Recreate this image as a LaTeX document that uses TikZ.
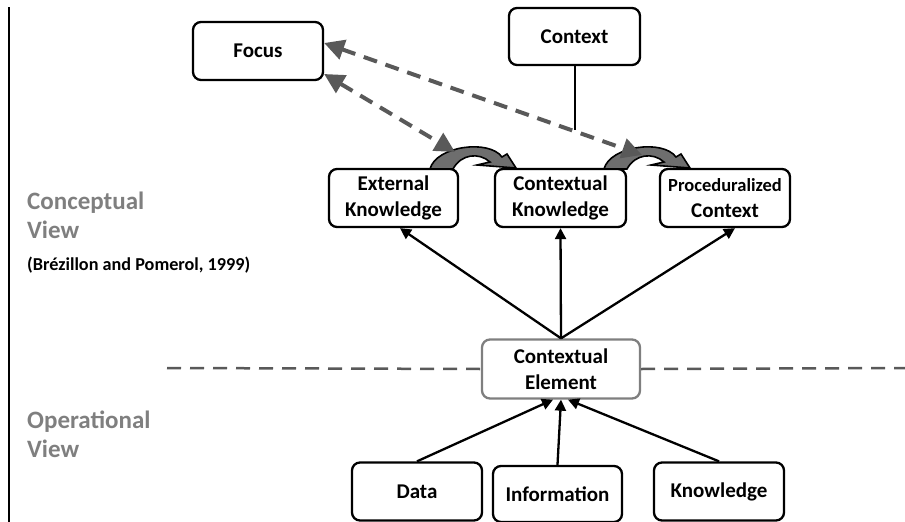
\documentclass[tikz,border=0pt]{standalone}
\usepackage{fontspec}
\setmainfont{Carlito}
\usetikzlibrary{arrows.meta}
\definecolor{dgray}{HTML}{595959}
\definecolor{lgray}{HTML}{7F7F7F}
\definecolor{agray}{HTML}{6E6E6E}
\tikzset{
  box/.style={draw=black, line width=2.3pt, rounded corners=8pt, align=center,
    font=\fontsize{21}{26}\selectfont\bfseries, inner sep=0pt},
  viewlabel/.style={anchor=base west, align=left, text=lgray,
    font=\fontsize{25}{28.5}\selectfont\bfseries, inner sep=0pt},
  solidarrow/.style={line width=2.3pt, -{Triangle[length=11pt,width=11pt]}},
  dasharrow/.style={draw=dgray, line width=4pt, dash pattern=on 14pt off 9pt,
    {Triangle[length=20pt,width=20pt]}-{Triangle[length=20pt,width=20pt]}},
  curvearrow/.style={fill=agray, draw=black, line width=1.6pt, line join=miter}
}
\begin{document}
\begin{tikzpicture}[x=1pt,y=-1pt]
\useasboundingbox (0,0) rectangle (905,522);
% left vertical rule
\draw[line width=2pt] (9,7) -- (9,522);

% view labels (base = baseline of last line)
\node[viewlabel] (cv) at (27,238) {Conceptual\\View};
\node[anchor=base west, inner sep=0pt, font=\fontsize{18.2}{20}\selectfont\bfseries] (cite) at (27,270) {(Brézillon and Pomerol, 1999)};
\node[viewlabel] (ov) at (27,457) {Operational\\View};

% boxes
\node[box, minimum width=130pt, minimum height=58pt] (focus) at (258,51) {Focus};
\node[box, minimum width=131pt, minimum height=57pt] (context) at (574.5,36.5) {Context};
\node[box, minimum width=129pt, minimum height=58pt] (ek) at (393.5,198) {External\\Knowledge};
\node[box, minimum width=131pt, minimum height=58pt] (ck) at (560.5,198) {Contextual\\Knowledge};
\node[box, minimum width=130pt, minimum height=58pt] (pc) at (725,198) {{\fontsize{18.5}{26}\selectfont Proceduralized}\\Context};
\node[box, draw=lgray, minimum width=158pt, minimum height=59pt] (ce) at (561,369) {Contextual\\Element};
\node[box, minimum width=130pt, minimum height=58pt] (data) at (417,491.5) {Data};
\node[box, minimum width=129pt, minimum height=56pt] (info) at (557.5,494) {Information};
\node[box, minimum width=130pt, minimum height=58pt] (know) at (719,491.5) {Knowledge};

% dashed separator
\draw[dgray, line width=2.5pt, dash pattern=on 14pt off 9pt] (167,368) -- (ce.west);
\draw[dgray, line width=2.5pt, dash pattern=on 14pt off 9pt] (ce.east) -- (905,368);

% solid arrows up to the conceptual boxes
\draw[solidarrow] (ce.north) -- ([xshift=6.5pt]ek.south);
\draw[solidarrow] (ce.north) -- (ck.south);
\draw[solidarrow] (ce.north) -- ([xshift=10pt]pc.south);

% arrows from operational boxes
\draw[solidarrow] (data.north) -- ([xshift=-8pt]ce.south);
\draw[solidarrow] (info.north) -- (ce.south);
\draw[solidarrow] (know.north) -- ([xshift=7pt]ce.south);

% context line
\coordinate (cj) at (574.5,130);
\draw[line width=2pt] (context.south) -- (cj);

% curved block arrows
\foreach \dx in {0,174}{
  \draw[curvearrow, xshift=\dx]
    (430,169) .. controls (436,146) and (489,139) .. (502,157)
    -- (507,154) -- (516,168) -- (477,165) -- (490,162)
    .. controls (479,152) and (461,154) .. (453,169) -- cycle;
}

% dashed double arrows
\coordinate (f1) at ([yshift=8pt]focus.east);
\coordinate (f2) at ([yshift=-23pt]focus.east);
\coordinate (d1) at (642,155);
\coordinate (d2) at (455,152);
\draw[dasharrow] (f1) -- (d1);
\draw[dasharrow] (f2) -- (d2);
\end{tikzpicture}
\end{document}
